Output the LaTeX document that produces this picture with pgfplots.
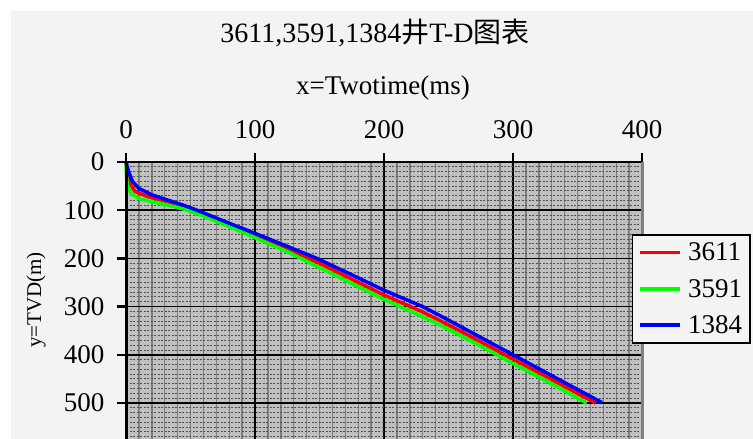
\documentclass[border=0pt]{standalone}
\usepackage{pgfplots}
\pgfplotsset{compat=1.18}
\usepackage{fontspec}
\setmainfont{Liberation Serif}
\newfontfamily\cjk{Noto Sans CJK SC}
\definecolor{panel}{HTML}{F3F3F3}
\definecolor{plotbg}{HTML}{C0C0C0}
\definecolor{minorv}{HTML}{7F7F7F}
\definecolor{minorh}{HTML}{505050}
\definecolor{edge}{HTML}{808080}
\newcommand\chartfont{\fontsize{27bp}{30bp}\selectfont}

% time-depth pairs: two-way time (ms), TVD (m)
\pgfplotstableread{
t d
0 0
1 20
3 44
7 61
16 71
29 80
45 92
55 103
80 131
100 153
125 181
150 210
175 243
200 276
230 311
250 338
275 373
300 409
325 444
350 480
364 500
}\wellA
\pgfplotstableread{
t d
0 0
0.3 25
1 48
4 66
11 77
21 83
30 88
47 99
57 109
80 134
100 157
125 186
150 219
175 252
200 285
230 321
250 347
275 382
300 418
325 453
357 500
}\wellB
\pgfplotstableread{
t d
0 0
2 20
5 40
10 55
20 68
30 77
45 90
55 100
80 127
100 148
125 175
148 200
175 234
200 266
230 300
250 328
275 364
300 400
325 436
350 472
369 499
}\wellC

\begin{document}
\begin{tikzpicture}
\useasboundingbox (0,0) rectangle (753bp,-439bp);
\fill[white] (0,0) rectangle (753bp,-439bp);
\fill[panel] (11bp,-11bp) rectangle (753bp,-439bp);
\node[font=\fontsize{28bp}{30bp}\selectfont] at (375bp,-33bp) {3611,3591,1384{\cjk 井}T-D{\cjk 图表}};
\node[font=\chartfont] at (383bp,-88bp) {x=Twotime(ms)};
\node[font=\fontsize{21bp}{24bp}\selectfont, rotate=90] at (36bp,-300bp) {y=TVD(m)};
\begin{axis}[
  at={(126bp,-162bp)}, anchor=north west,
  scale only axis, width=516bp, height=279.6bp,
  xmin=0, xmax=400, ymin=0, ymax=580, y dir=reverse,
  clip=false,
  xtick={0,100,...,400}, ytick={0,100,...,600},
  minor x tick num=9, minor y tick num=9,
  xtick pos=right, ytick pos=left,
  xticklabel pos=right, yticklabel pos=left,
  tick align=outside,
  tickwidth=9bp, subtickwidth=0bp,
  every tick/.style={black, line width=2.5bp},
  /pgf/number format/assume math mode=true,
  ticklabel style={font=\chartfont},
  xticklabel style={yshift=11bp},
  yticklabel style={xshift=-9bp},
  axis background/.style={fill=plotbg},
  axis line style={draw=none},
  grid=both,
  major grid style={black, line width=1.5bp},
  minor x grid style={minorv, line width=1.4bp},
  minor y grid style={minorh, line width=1bp, dash pattern=on 2bp off 1.5bp},
  legend style={at={(axis description cs:0.9806,0.7425)}, anchor=north west,
    fill=panel, draw=black, line width=1.5bp, font=\chartfont,
    inner xsep=6bp, inner ysep=6bp, row sep=13bp,
    nodes={inner sep=2bp}},
  legend cell align=left,
  legend image code/.code={\draw[#1] (0bp,0bp) -- (40bp,0bp);\path (44bp,0bp);},
]
\addplot[red, line width=3.5bp] table {\wellA};
\addlegendentry{3611}
\addplot[green, line width=3.5bp] table {\wellB};
\addlegendentry{3591}
\addplot[blue, line width=3.5bp] table {\wellC};
\addlegendentry{1384}
% frame: dark top and left edges, grey right edge, open bottom
\draw[edge, line width=3bp] (rel axis cs:1,0) -- (rel axis cs:1,1);
\draw[black, line width=3bp] (rel axis cs:0,1) -- (rel axis cs:0,0) -- (rel axis cs:1,0);
% outward tick marks
\pgfplotsinvokeforeach{0,100,200,300,400}{
  \draw[black, line width=2.5bp] (axis cs:#1,0) -- ++(0,9bp);}
\pgfplotsinvokeforeach{0,100,200,300,400,500}{
  \draw[black, line width=2.5bp] (axis cs:0,#1) -- ++(-9bp,0);}
\end{axis}
\end{tikzpicture}
\end{document}
